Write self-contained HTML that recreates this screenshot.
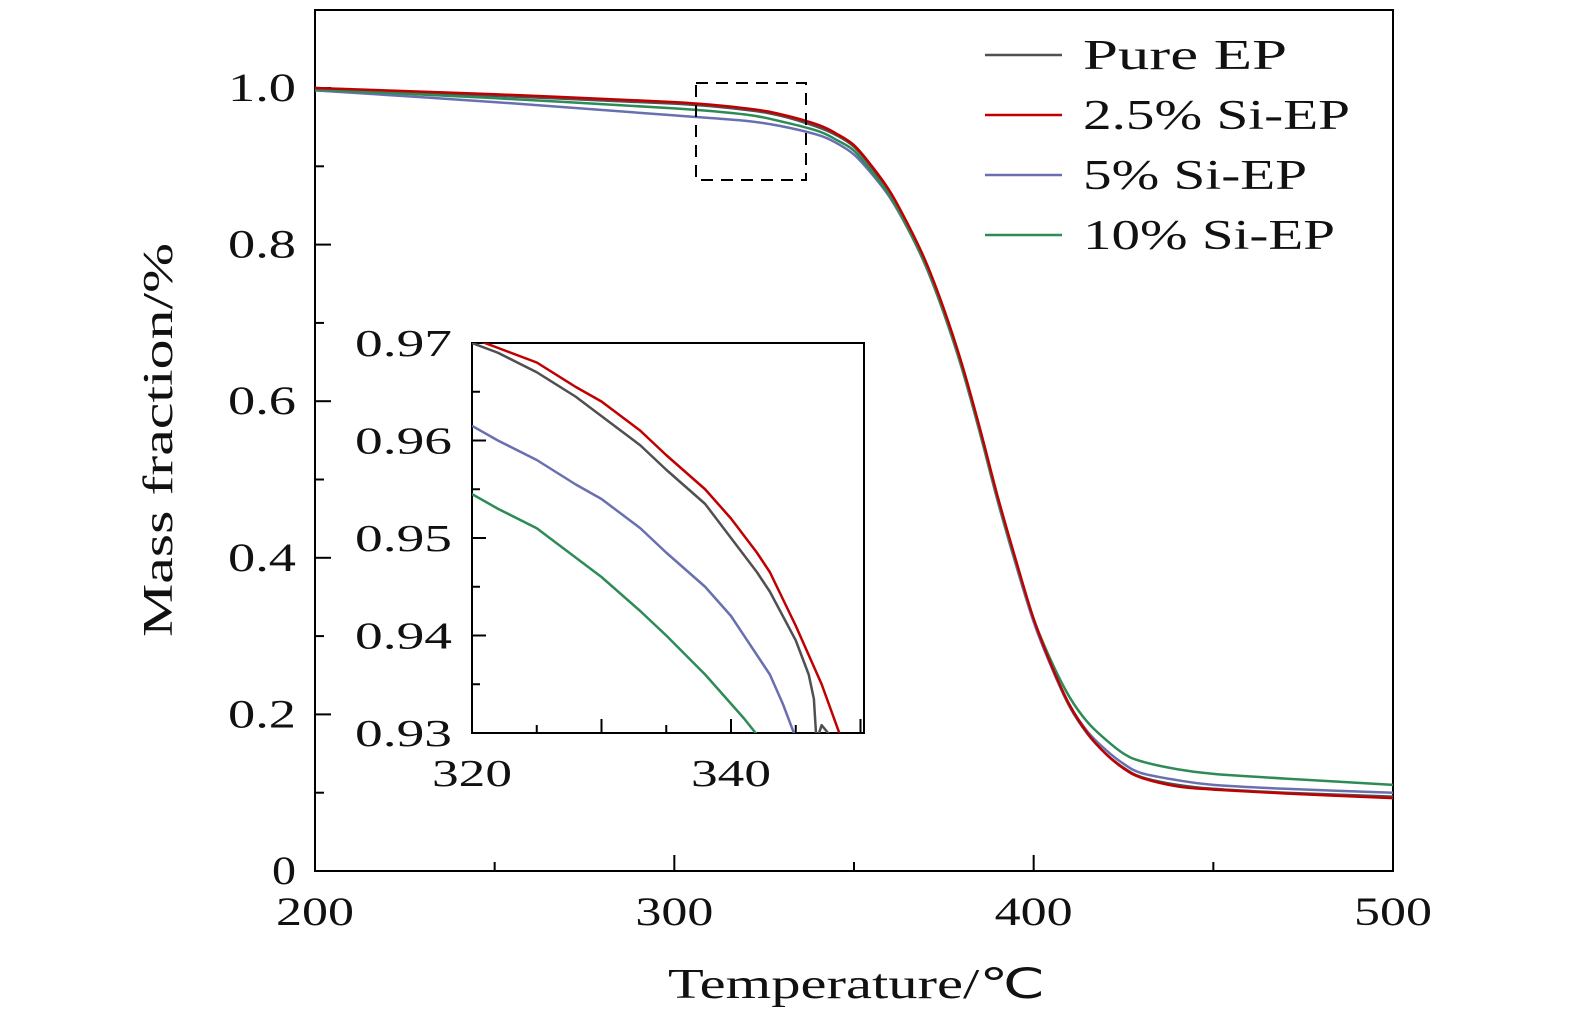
<!DOCTYPE html>
<html><head><meta charset="utf-8"><style>
body{margin:0;background:#fff}
svg text{font-family:"Liberation Serif",serif;fill:#111}
</style></head><body>
<svg id="c" width="1575" height="1024" viewBox="0 0 1575 1024" xmlns="http://www.w3.org/2000/svg">
<defs>
<clipPath id="mc"><rect x="315" y="10" width="1078" height="861"/></clipPath>
<clipPath id="ic"><rect x="472" y="343" width="392" height="390"/></clipPath>
</defs>
</svg>
<script>
const seriesNames=["Pure EP","2.5% Si-EP","5% Si-EP","10% Si-EP"];
const colors=["#505050","#c00000","#6a6fb0","#2e8b57"];
const mainT=[200,250,300,320,330,340,345,350,355,360,365,370,375,380,385,390,395,400,405,410,415,420,425,430,440,450,470,500];
const mainPure=[1.0,.99,.98,.972,.964,.95,.94,.925,.898,.865,.823,.775,.715,.645,.563,.475,.395,.32,.26,.21,.175,.15,.132,.12,.11,.105,.1,.095];
const main25=[1.0,.992,.982,.974,.966,.953,.942,.927,.900,.868,.826,.778,.718,.648,.566,.478,.398,.322,.262,.212,.176,.15,.131,.119,.108,.104,.099,.093];
const main5=[.997,.982,.965,.958,.951,.94,.93,.915,.89,.86,.82,.772,.712,.642,.56,.472,.392,.318,.26,.212,.178,.155,.137,.125,.116,.11,.105,.1];
const main10=[.998,.987,.974,.966,.957,.945,.934,.92,.893,.862,.821,.773,.713,.643,.561,.474,.395,.322,.267,.222,.19,.168,.15,.14,.13,.124,.118,.11];
const insetTPure=[320,322,325,328,330,333,335,338,340,342,343,344,345,346,346.4,346.6,347,347.5,348];
const insetPure=[.970,.969,.967,.9645,.9625,.9595,.957,.9535,.950,.9465,.9445,.942,.9395,.936,.9335,.9292,.9308,.930,.929];
const insetT25=[320,322,325,328,330,333,335,338,340,342,343,345,347,348.5];
const inset25=[.9705,.9695,.968,.9655,.964,.961,.9585,.955,.952,.9485,.9465,.941,.935,.9295];
const insetT5=[320,322,325,328,330,333,335,338,340,342,343,344,345];
const inset5=[.9615,.960,.958,.9555,.954,.951,.9485,.945,.942,.938,.936,.933,.9295];
const insetT10=[320,322,325,328,330,333,335,338,340,341,342.2];
const inset10=[.9545,.953,.951,.948,.946,.9425,.940,.936,.933,.9315,.9295];
const xTicks=[200,300,400,500], yTicks=[0,0.2,0.4,0.6,0.8,1.0];
const ixTicks=[320,340], iyTicks=[0.93,0.94,0.95,0.96,0.97];

const svg=document.getElementById('c');const NS="http://www.w3.org/2000/svg";
function el(t,a,p){const e=document.createElementNS(NS,t);for(const k in a)e.setAttribute(k,a[k]);(p||svg).appendChild(e);return e;}
const X=v=>315+(v-200)/300*1078, Y=v=>871-v*783;
const IX=v=>472+(v-320)*12.95, IY=v=>733-(v-0.93)*9750;
function path(xs,ys,fx,fy){const p=xs.map((x,i)=>[fx(x),fy(ys[i])]);let d="M"+p[0][0]+","+p[0][1];
for(let i=0;i<p.length-1;i++){const p0=p[i-1]||p[i],p1=p[i],p2=p[i+1],p3=p[i+2]||p2;
d+=` C${p1[0]+(p2[0]-p0[0])/6},${p1[1]+(p2[1]-p0[1])/6} ${p2[0]-(p3[0]-p1[0])/6},${p2[1]-(p3[1]-p1[1])/6} ${p2[0]},${p2[1]}`;}return d;}
function lin(xs,ys,fx,fy){return xs.map((x,i)=>(i?'L':'M')+fx(x)+','+fy(ys[i])).join(' ');}
function txt(s,a,w){const t=el('text',a);t.textContent=s;if(w){t.setAttribute('textLength',w);t.setAttribute('lengthAdjust','spacingAndGlyphs');}return t;}
let f=el('rect',{x:315,y:10,width:1078,height:861,fill:'none',stroke:'#000','stroke-width':2});


for(let v=200;v<=500;v+=50){const maj=v%100==0;let t=el('line',{x1:X(v),x2:X(v),y1:871,y2:871-(maj?16:9),stroke:'#000','stroke-width':2});

}
xTicks.forEach(v=>{let t=txt(v,{x:X(v),y:925,'text-anchor':'middle','font-size':40},78);

});
for(let i=0;i<=10;i++){const v=i/10;let t=el('line',{x1:315,x2:315+(i%2==0?16:9),y1:Y(v),y2:Y(v),stroke:'#000','stroke-width':2});

}
yTicks.forEach(v=>{let t=txt(v==0?'0':v.toFixed(1),{x:296,y:Y(v)+13,'text-anchor':'end','font-size':40},v==0?24:68);

});
let xt=txt('Temperature/℃',{x:668,y:998,'font-size':42},377);


let yt=txt('Mass fraction/%',{x:0,y:0,'text-anchor':'middle','font-size':42,transform:'translate(172,440) rotate(-90)'},394);


const mg=el('g',{'clip-path':'url(#mc)'});
[[mainPure,0],[main5,2],[main10,3],[main25,1]].forEach(([d,i])=>{let p=el('path',{d:path(mainT,d,X,Y),fill:'none',stroke:colors[i],'stroke-width':2.5},mg);

});
let db=el('rect',{x:696,y:83,width:110,height:97,fill:'none',stroke:'#000','stroke-width':2,'stroke-dasharray':'12,8'});


const legW=[204,267,224,252];
seriesNames.forEach((n,i)=>{const y=55+i*60;let l=el('line',{x1:985,x2:1062,y1:y,y2:y,stroke:colors[i],'stroke-width':2.5});


let t=txt(n,{x:1083,y:y+14,'font-size':42},legW[i]);

});
let ib=el('rect',{x:472,y:343,width:392,height:390,fill:'#fff',stroke:'#000','stroke-width':2});


for(let v=320;v<=350;v+=5){let t=el('line',{x1:IX(v),x2:IX(v),y1:733,y2:733-(v%10==0?14:8),stroke:'#000','stroke-width':2});

}
ixTicks.forEach(v=>{let t=txt(v,{x:IX(v),y:786,'text-anchor':'middle','font-size':38},80);

});
for(let i=0;i<=8;i++){const v=0.93+i*0.005;let t=el('line',{x1:472,x2:472+(i%2==0?14:8),y1:IY(v),y2:IY(v),stroke:'#000','stroke-width':2});

}
iyTicks.forEach(v=>{let t=txt(v.toFixed(2),{x:452,y:IY(v)+13,'text-anchor':'end','font-size':38},97);

});
const ig=el('g',{'clip-path':'url(#ic)'});
[[insetTPure,insetPure,0],[insetT25,inset25,1],[insetT5,inset5,2],[insetT10,inset10,3]].forEach(([t,d,i])=>{let p=el('path',{d:lin(t,d,IX,IY),fill:'none',stroke:colors[i],'stroke-width':2.5,'stroke-linejoin':'round'},ig);

});
</script>
</body></html>
